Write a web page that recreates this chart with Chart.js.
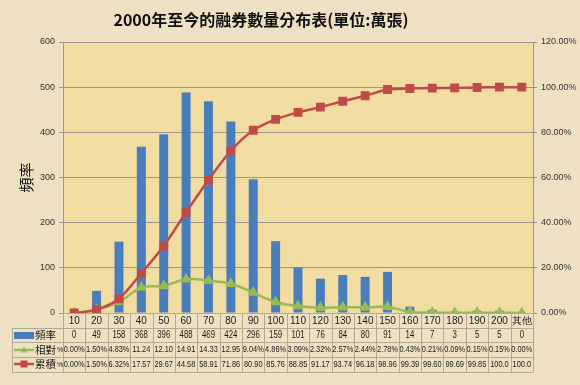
<!DOCTYPE html>
<html>
<head>
<meta charset="utf-8">
<script src="https://cdn.jsdelivr.net/npm/chart.js@4.4.1/dist/chart.umd.min.js"></script>
<style>
  html, body { margin: 0; padding: 0; background: #eee1c3; }
  #wrap { width: 580px; height: 385px; }
</style>
</head>
<body>
<div id="wrap"><canvas id="chart" width="580" height="385"></canvas></div>
<script>
// 分組 (萬張)
const categories = ["10", "20", "30", "40", "50", "60", "70", "80", "90", "100",
                    "110", "120", "130", "140", "150", "160", "170", "180", "190", "200", "其他"];
// 頻率
const frequency = [0, 49, 158, 368, 396, 488, 469, 424, 296, 159,
                   101, 76, 84, 80, 91, 14, 7, 3, 5, 5, 0];
// 相對 %
const relative = [0.00, 1.50, 4.83, 11.24, 12.10, 14.91, 14.33, 12.95, 9.04, 4.86,
                  3.09, 2.32, 2.57, 2.44, 2.78, 0.43, 0.21, 0.09, 0.15, 0.15, 0.00];
// 累積 %
const cumulative = [0.00, 1.50, 6.32, 17.57, 29.67, 44.58, 58.91, 71.86, 80.90, 85.76,
                    88.85, 91.17, 93.74, 96.18, 98.96, 99.39, 99.60, 99.69, 99.85, 100.0, 100.0];

const titleText = "2000年至今的融券數量分布表(單位:萬張)";

const BLUE = "#4a7dbb";
const GREEN = "#98bb55";
const RED = "#be4b48";
const LINE_GRAY = "#9d948a";
const TABLE_FONT = '"Liberation Sans", sans-serif';
const SQUEEZE = 0.78;   // 表格文字橫向壓縮 (類似 Calibri 的窄字)

function narrowText(ctx, s, x, y) {
    ctx.save();
    ctx.translate(x, y);
    ctx.scale(SQUEEZE, 1);
    ctx.fillText(s, 0, 0);
    ctx.restore();
}

// 背景 + 標題 + 資料表
const tablePlugin = {
    id: "tablePlugin",
    beforeDraw(chart) {
        const { ctx, chartArea: a } = chart;
        ctx.save();
        ctx.fillStyle = "#eee1c3";
        ctx.fillRect(0, 0, chart.width, chart.height);
        ctx.fillStyle = "#f1dca2";
        ctx.fillRect(a.left, a.top, a.right - a.left, a.bottom - a.top);
        ctx.restore();
    },
    afterDraw(chart) {
        const { ctx, chartArea: a } = chart;
        const x = chart.scales.x;
        const step = (a.right - a.left) / categories.length;
        const tableLeft = 12;
        const rowH = 14.7;
        const top = a.bottom;
        const rows = [
            { key: "freq", label: "頻率", values: frequency.map(String) },
            { key: "rel", label: "相對", values: relative },
            { key: "cum", label: "累積", values: cumulative }
        ];

        ctx.save();
        // 標題
        ctx.fillStyle = "#111";
        ctx.textAlign = "center";
        ctx.textBaseline = "middle";
        ctx.font = 'bold 16px "Noto Sans CJK TC", sans-serif';
        ctx.fillText(titleText, 261, 20);

        ctx.strokeStyle = "#b3aa93";
        ctx.lineWidth = 1;

        // 橫線
        ctx.beginPath();
        for (let r = 0; r <= 4; r++) {
            const y = Math.round(top + r * rowH) + 0.5;
            ctx.moveTo(r === 0 ? a.left : tableLeft, y);
            ctx.lineTo(a.right, y);
        }
        // 直線
        for (let i = 0; i <= categories.length; i++) {
            const xx = Math.round(a.left + i * step) + 0.5;
            ctx.moveTo(xx, top);
            ctx.lineTo(xx, top + 4 * rowH);
        }
        ctx.moveTo(tableLeft + 0.5, top + rowH);
        ctx.lineTo(tableLeft + 0.5, top + 4 * rowH);
        ctx.stroke();

        // 數值
        rows.forEach((row, r) => {
            const yc = top + (r + 1.5) * rowH;
            ctx.fillStyle = "#1a1a1a";
            ctx.textAlign = "center";
            ctx.font = (row.key === "freq" ? "10px " : "9.5px ") + TABLE_FONT;
            row.values.forEach((v, i) => {
                let s = typeof v === "number" ? v.toFixed(2) + "%" : v;
                while (ctx.measureText(s).width * SQUEEZE > step - 1 && s.length > 1) s = s.slice(0, -1);
                narrowText(ctx, s, x.getPixelForValue(i), yc);
            });

            // 圖例
            const ly = Math.round(yc);
            if (row.key === "freq") {
                ctx.fillStyle = BLUE;
                ctx.fillRect(14, ly - 3, 20, 7);
            } else {
                const col = row.key === "rel" ? GREEN : RED;
                ctx.strokeStyle = col;
                ctx.lineWidth = 2.5;
                ctx.beginPath();
                ctx.moveTo(14, ly);
                ctx.lineTo(34, ly);
                ctx.stroke();
                ctx.fillStyle = col;
                ctx.beginPath();
                if (row.key === "rel") {
                    ctx.moveTo(24, ly - 3.5);
                    ctx.lineTo(27.5, ly + 2.5);
                    ctx.lineTo(20.5, ly + 2.5);
                    ctx.closePath();
                    ctx.fill();
                } else {
                    ctx.fillRect(20.5, ly - 3.5, 7, 7);
                }
            }
            ctx.fillStyle = "#1a1a1a";
            ctx.textAlign = "left";
            ctx.font = '10.5px "Noto Sans CJK TC", sans-serif';
            ctx.fillText(row.label, 35, yc);
            if (row.key !== "freq") {
                ctx.font = "7px " + TABLE_FONT;
                ctx.fillText("%", 57, yc + 0.5);
            }
        });
        ctx.restore();
    }
};

new Chart(document.getElementById("chart"), {
    data: {
        labels: categories,
        datasets: [
            {
                type: "line",
                label: "累積 %",
                data: cumulative,
                yAxisID: "yPct",
                borderColor: RED,
                backgroundColor: RED,
                borderWidth: 2.5,
                tension: 0.3,
                pointStyle: "rect",
                pointRadius: 4.5,
                order: 0
            },
            {
                type: "line",
                label: "相對 %",
                data: relative,
                yAxisID: "yPct",
                borderColor: GREEN,
                backgroundColor: GREEN,
                borderWidth: 2.5,
                tension: 0.4,
                pointStyle: "triangle",
                pointRadius: 4,
                order: 1
            },
            {
                type: "bar",
                label: "頻率",
                data: frequency,
                yAxisID: "yFreq",
                backgroundColor: BLUE,
                barPercentage: 0.4,
                categoryPercentage: 1,
                order: 2
            }
        ]
    },
    options: {
        responsive: false,
        animation: false,
        layout: { padding: { top: 42, left: 17, right: 0, bottom: 0 } },
        plugins: {
            legend: { display: false },
            tooltip: { enabled: false },
            title: { display: false }
        },
        scales: {
            x: {
                grid: { display: false, drawTicks: false },
                border: { display: false },
                ticks: {
                    color: "#1a1a1a",
                    font: { family: TABLE_FONT, size: 10 },
                    padding: 2,
                    maxRotation: 0,
                    autoSkip: false
                },
                afterFit(scale) { scale.height = 72; }
            },
            yFreq: {
                type: "linear",
                position: "left",
                min: 0,
                max: 600,
                ticks: {
                    stepSize: 100,
                    color: "#333",
                    font: { family: "Liberation Sans", size: 9 },
                    padding: 4
                },
                grid: { color: LINE_GRAY, tickLength: 4 },
                border: { color: LINE_GRAY },
                title: {
                    display: true,
                    text: "頻率",
                    color: "#111",
                    font: { family: '"Noto Sans CJK TC", sans-serif', size: 15 },
                    padding: 0
                },
                afterFit(scale) { scale.width = 46; }
            },
            yPct: {
                type: "linear",
                position: "right",
                min: 0,
                max: 120,
                ticks: {
                    stepSize: 20,
                    color: "#333",
                    font: { family: "Liberation Sans", size: 9 },
                    padding: 4,
                    callback: v => v.toFixed(2) + "%"
                },
                grid: { drawOnChartArea: false, color: LINE_GRAY, tickLength: 4 },
                border: { color: LINE_GRAY },
                afterFit(scale) { scale.width = 47; }
            }
        }
    },
    plugins: [tablePlugin]
});
</script>
</body>
</html>
